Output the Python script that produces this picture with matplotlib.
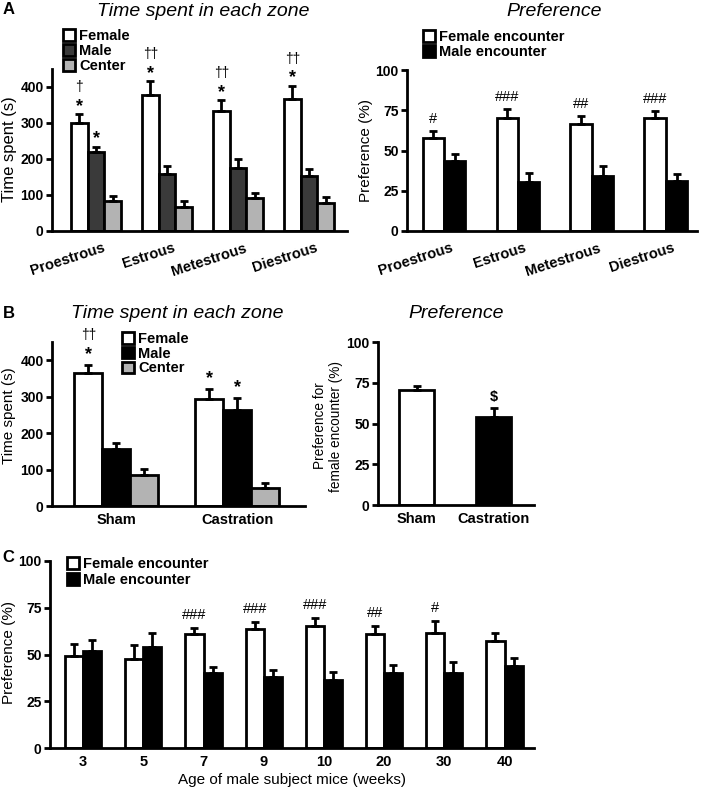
import matplotlib
matplotlib.use('Agg')
import matplotlib.pyplot as plt
import numpy as np
from matplotlib import transforms

plt.rcParams['font.family'] = ['Liberation Sans', 'DejaVu Sans']

# ---------------- data ----------------
cycle_phases = ['Proestrous', 'Estrous', 'Metestrous', 'Diestrous']
zone_labels = ['Female', 'Male', 'Center']
a_time_female = [300, 378, 333, 368]
a_time_female_err = [24, 38, 30, 35]
a_time_male = [220, 157, 174, 152]
a_time_male_err = [14, 24, 27, 19]
a_time_center = [84, 66, 92, 77]
a_time_center_err = [13, 17, 14, 18]
a_female_marks = ['*', '*', '*', '*']
a_female_marks2 = ['†', '††', '††', '††']
a_male_marks = ['*', '', '', '']

encounter_labels = ['Female encounter', 'Male encounter']
a_pref_female = [57.5, 70.0, 66.3, 70.0]
a_pref_female_err = [4.5, 5.8, 5.3, 4.5]
a_pref_male = [43.5, 30.6, 34.2, 31.0]
a_pref_male_err = [4.3, 5.2, 6.4, 4.4]
a_pref_marks = ['#', '###', '##', '###']

b_groups = ['Sham', 'Castration']
b_time_female = [365, 294]
b_time_female_err = [23, 28]
b_time_male = [157, 264]
b_time_male_err = [15, 32]
b_time_center = [85, 49]
b_time_center_err = [16, 13]
b_female_marks = ['*', '*']
b_female_marks2 = ['††', '']
b_male_marks = ['', '*']
b_pref = [70.8, 54.0]
b_pref_err = [2.5, 5.6]
b_pref_marks = ['', '$']

c_ages = ['3', '5', '7', '9', '10', '20', '30', '40']
c_female = [49.4, 47.4, 60.7, 63.4, 65.2, 60.9, 61.3, 57.4]
c_female_err = [6.0, 7.5, 3.4, 4.1, 4.4, 4.6, 6.4, 4.2]
c_male = [51.9, 53.8, 40.3, 38.2, 36.1, 40.3, 40.0, 44.0]
c_male_err = [5.8, 7.5, 3.2, 3.7, 4.8, 3.9, 6.2, 4.3]
c_marks = ['', '', '###', '###', '###', '##', '#', '']

# ---------------- layout helpers ----------------
W, H = 702, 791
fig = plt.figure(figsize=(W / 100, H / 100), dpi=100)


def axpx(l, r, t, b):
    ax = fig.add_axes([l / W, 1 - b / H, (r - l) / W, (b - t) / H])
    ax._px = (l, r, t, b)
    return ax


def style(ax, ylim, yticks, xpad=5):
    for s in ['top', 'right']:
        ax.spines[s].set_visible(False)
    for s in ['left', 'bottom']:
        ax.spines[s].set_linewidth(2)
    ax.set_ylim(*ylim)
    ax.set_yticks(yticks)
    ax.tick_params(axis='y', direction='out', length=4, width=2, labelsize=10, pad=2)
    ax.tick_params(axis='x', length=0, labelsize=10.5, pad=xpad)
    for lab in ax.get_yticklabels():
        lab.set_fontweight('bold')


def bars(ax, x, vals, errs, color, width, label=None):
    b = ax.bar(x, vals, width, color=color, edgecolor='black', linewidth=2,
               zorder=2, label=label)
    ax.errorbar(x, vals, yerr=[np.zeros(len(vals)), errs], fmt='none',
                ecolor='black', elinewidth=2, capsize=3, capthick=2, zorder=3)
    return b


def marks(ax, x, vals, errs, labels, dy_px, size, weight='normal'):
    for xi, v, e, lab in zip(x, vals, errs, labels):
        if lab:
            ax.annotate(lab, (xi, v + e), xytext=(0, dy_px * 0.72),
                        textcoords='offset points', ha='center', va='center',
                        fontsize=size, fontweight=weight, annotation_clip=False)


def ylabel(ax, text, px, py, size):
    l, r, t, b = ax._px
    ax.set_ylabel(text, fontsize=size, va='center', linespacing=1.2)
    ax.yaxis.set_label_coords((px - l) / (r - l), (b - py) / (b - t))


def legend(ax, handles, labels, left_px, top_px, spacing):
    leg = ax.legend(handles, labels, loc='upper left',
                    bbox_to_anchor=(left_px / W, 1 - top_px / H),
                    bbox_transform=fig.transFigure, frameon=False,
                    borderpad=0, borderaxespad=0, handlelength=0.85,
                    handleheight=0.85, handletextpad=0.25,
                    labelspacing=spacing, prop={'size': 10.5, 'weight': 'bold'})
    return leg


def title(px, py, text):
    fig.text(px / W, 1 - py / H, text, ha='center', va='center', fontsize=14,
             style='italic')


def letter(px, py, text):
    fig.text(px / W, 1 - py / H, text, ha='center', va='center', fontsize=12,
             fontweight='bold')


dark = '#3a3a3a'
light = '#b3b3b3'

# ---------------- Panel A left ----------------
ax = axpx(52, 347, 69, 231)
x = np.arange(len(cycle_phases))
w = 0.235
b1 = bars(ax, x - w, a_time_female, a_time_female_err, 'white', w)
b2 = bars(ax, x, a_time_male, a_time_male_err, dark, w)
b3 = bars(ax, x + w, a_time_center, a_time_center_err, light, w)
style(ax, (0, 450), [0, 100, 200, 300, 400])
ax.set_xlim(-0.62, 3.535)
ax.set_xticks(x)
ax.set_xticklabels(cycle_phases, rotation=18, ha='right', va='top',
                   rotation_mode='anchor', fontweight='bold', fontsize=10.5)
off = transforms.ScaledTranslation(6 / 100, -3 / 100, fig.dpi_scale_trans)
for lab in ax.get_xticklabels():
    lab.set_transform(lab.get_transform() + off)
marks(ax, x - w, a_time_female, a_time_female_err, a_female_marks, 8, 13, 'bold')
marks(ax, x - w, a_time_female, a_time_female_err, a_female_marks2, 27, 10)
marks(ax, x, a_time_male, a_time_male_err, a_male_marks, 8, 13, 'bold')
ylabel(ax, 'Time spent (s)', 9.5, 149, 12)
legend(ax, [b1, b2, b3], zone_labels, 63, 29, 0.08)
title(203, 12, 'Time spent in each zone')
letter(9, 10, 'A')

# ---------------- Panel A right ----------------
ax = axpx(407, 697, 70, 231)
w = 0.29
b1 = bars(ax, x - w / 2, a_pref_female, a_pref_female_err, 'white', w)
b2 = bars(ax, x + w / 2, a_pref_male, a_pref_male_err, 'black', w)
style(ax, (0, 100), [0, 25, 50, 75, 100])
ax.set_xlim(-0.5, 3.42)
ax.set_xticks(x)
ax.set_xticklabels(cycle_phases, rotation=18, ha='right', va='top',
                   rotation_mode='anchor', fontweight='bold', fontsize=10.5)
for lab in ax.get_xticklabels():
    lab.set_transform(lab.get_transform() + off)
marks(ax, x - w / 2, a_pref_female, a_pref_female_err, a_pref_marks, 12, 10.5)
ylabel(ax, 'Preference (%)', 366, 150, 11)
legend(ax, [b1, b2], encounter_labels, 423, 30, 0.08)
title(554, 12, 'Preference')

# ---------------- Panel B left ----------------
ax = axpx(52, 305, 342, 506)
xb = np.arange(len(b_groups))
w = 0.23
b1 = bars(ax, xb - w, b_time_female, b_time_female_err, 'white', w)
b2 = bars(ax, xb, b_time_male, b_time_male_err, 'black', w)
b3 = bars(ax, xb + w, b_time_center, b_time_center_err, light, w)
style(ax, (0, 450), [0, 100, 200, 300, 400], xpad=5)
ax.set_xlim(-0.53, 1.56)
ax.set_xticks(xb)
ax.set_xticklabels(b_groups, fontweight='bold', fontsize=10.5)
marks(ax, xb - w, b_time_female, b_time_female_err, b_female_marks, 10, 13, 'bold')
marks(ax, xb - w, b_time_female, b_time_female_err, b_female_marks2, 30, 10)
marks(ax, xb, b_time_male, b_time_male_err, b_male_marks, 11, 13, 'bold')
ylabel(ax, 'Time spent (s)', 9.5, 416, 11)
legend(ax, [b1, b2, b3], zone_labels, 122, 332, 0.05)
title(177, 314, 'Time spent in each zone')
letter(9, 313, 'B')

# ---------------- Panel B right ----------------
ax = axpx(378, 534, 342, 505)
w = 0.45
ax.bar(xb, b_pref, w, color=['white', 'black'], edgecolor='black', linewidth=2, zorder=2)
ax.errorbar(xb, b_pref, yerr=[np.zeros(len(b_pref)), b_pref_err], fmt='none',
            ecolor='black', elinewidth=2, capsize=3, capthick=2, zorder=3)
style(ax, (0, 100), [0, 25, 50, 75, 100], xpad=5)
ax.set_xlim(-0.5, 1.52)
ax.set_xticks(xb)
ax.set_xticklabels(b_groups, fontweight='bold', fontsize=10.5)
marks(ax, xb, b_pref, b_pref_err, b_pref_marks, 11, 10.5, 'bold')
ylabel(ax, 'Preference for\nfemale encounter (%)', 328, 426, 9.8)
title(456, 313, 'Preference')

# ---------------- Panel C ----------------
ax = axpx(50, 534, 561, 748)
xc = np.arange(len(c_ages))
w = 0.30
b1 = bars(ax, xc - w / 2, c_female, c_female_err, 'white', w)
b2 = bars(ax, xc + w / 2, c_male, c_male_err, 'black', w)
style(ax, (0, 100), [0, 25, 50, 75, 100], xpad=5)
ax.set_xlim(-0.55, 7.49)
ax.set_xticks(xc)
ax.set_xticklabels(c_ages, fontweight='bold', fontsize=10.5)
marks(ax, xc - w / 2, c_female, c_female_err, c_marks, 13, 10.5)
ylabel(ax, 'Preference (%)', 9.5, 652, 11)
ax.set_xlabel('Age of male subject mice (weeks)', fontsize=11, labelpad=3)
legend(ax, [b1, b2], encounter_labels, 67, 557, 0.15)
letter(8, 557, 'C')

fig.savefig('out.png', dpi=100)
